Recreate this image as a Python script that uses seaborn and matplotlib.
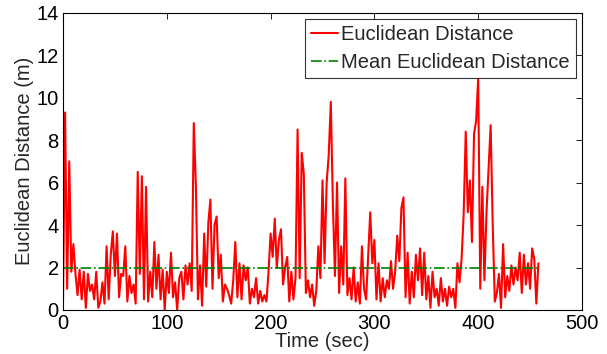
import numpy as np
import pandas as pd
import matplotlib
matplotlib.use("Agg")
import matplotlib.pyplot as plt
import seaborn as sns

time_sec = list(range(0, 460, 2))
distance = [
    0.5, 9.3, 1.0, 7.0, 1.8, 3.1, 1.7, 0.7, 1.9, 0.5,
    1.8, 0.1, 1.7, 0.9, 1.2, 0.5, 1.8, 0.1, 0.4, 1.3,
    0.3, 3.0, 0.5, 2.6, 3.7, 1.6, 3.6, 0.6, 1.7, 1.6,
    3.0, 0.4, 1.6, 0.8, 1.2, 0.3, 6.5, 1.7, 6.3, 0.5,
    5.8, 0.4, 1.8, 0.6, 3.2, 1.0, 2.6, 0.5, 1.9, 0.0,
    1.8, 0.8, 2.7, 0.6, 1.3, 0.0, 1.5, 1.8, 0.5, 2.1,
    1.2, 2.2, 0.9, 8.8, 5.9, 0.5, 2.1, 0.2, 3.6, 1.1,
    4.1, 5.2, 1.0, 4.0, 4.4, 1.5, 2.6, 0.4, 1.2, 1.0,
    0.7, 0.3, 1.4, 3.2, 0.6, 2.2, 0.5, 2.1, 1.4, 2.0,
    0.3, 1.0, 0.6, 1.5, 0.3, 0.9, 0.4, 0.7, 0.4, 1.8,
    3.6, 2.5, 4.3, 2.0, 3.3, 3.8, 1.2, 2.0, 2.5, 0.4,
    1.8, 0.5, 1.5, 8.5, 1.5, 7.4, 6.4, 0.8, 1.4, 0.6,
    1.2, 0.2, 0.9, 3.0, 1.5, 6.1, 2.2, 6.0, 7.3, 9.8,
    5.0, 1.6, 6.0, 0.8, 3.0, 1.2, 6.2, 0.7, 1.5, 0.5,
    2.0, 0.4, 1.3, 0.3, 3.0, 1.0, 0.5, 2.5, 4.6, 2.2,
    3.3, 0.5, 2.2, 0.4, 1.5, 0.6, 1.4, 1.0, 2.3, 1.0,
    1.8, 3.5, 2.3, 4.8, 5.3, 0.6, 2.7, 0.3, 1.8, 0.6,
    2.6, 1.4, 2.9, 0.7, 2.7, 0.5, 1.6, 0.1, 1.8, 0.6,
    1.0, 0.2, 1.5, 0.4, 1.0, 0.2, 1.1, 0.6, 1.0, 0.1,
    2.2, 1.3, 2.4, 4.5, 8.4, 4.6, 6.1, 3.2, 8.3, 8.9,
    10.9, 1.0, 5.8, 1.4, 4.6, 6.7, 8.7, 4.0, 0.4, 0.8,
    1.7, 0.1, 3.1, 0.6, 1.6, 0.9, 2.1, 1.2, 2.0, 1.4,
    2.7, 0.8, 2.6, 1.2, 2.2, 1.0, 2.9, 2.4, 0.3, 2.2,
]
mean_distance = 1.98
x_ticks = [0, 100, 200, 300, 400, 500]
y_ticks = [0, 2, 4, 6, 8, 10, 12, 14]

sns.set_style("white")
plt.rcParams["font.family"] = ["Liberation Sans", "DejaVu Sans"]

df = pd.DataFrame({"t": time_sec, "d": distance})
mean_df = pd.DataFrame({"t": [time_sec[0], time_sec[-1]],
                        "d": [mean_distance, mean_distance]})

fig = plt.figure(figsize=(6.07, 3.54), dpi=100)
ax = fig.add_axes([0.1038, 0.1243, 0.855, 0.840])

sns.lineplot(data=df, x="t", y="d", ax=ax, color="#ff0000", linewidth=1.5,
             label="Euclidean Distance")
sns.lineplot(data=mean_df, x="t", y="d", ax=ax, color="#008000", linewidth=1.2,
             linestyle="-.", label="Mean Euclidean Distance")

ax.set_xlim(0, 500)
ax.set_ylim(0, 14)
ax.set_xticks(x_ticks)
ax.set_yticks(y_ticks)
ax.tick_params(direction="in", top=True, right=True, length=4, width=0.6,
               labelsize=14.5, pad=3, colors="black")
for s in ax.spines.values():
    s.set_linewidth(0.8)
    s.set_color("black")
ax.set_xlabel("Time (sec)", fontsize=14.5, labelpad=-1)
ax.set_ylabel("Euclidean Distance (m)", fontsize=14.5, labelpad=2)

leg = ax.legend(loc="upper right", fontsize=14.5, frameon=True, fancybox=False,
                borderpad=0.3, handlelength=1.35, handletextpad=0.15,
                labelspacing=0.45, borderaxespad=0.3)
leg.get_frame().set_edgecolor("black")
leg.get_frame().set_linewidth(0.8)

fig.savefig("out.png", dpi=100)
